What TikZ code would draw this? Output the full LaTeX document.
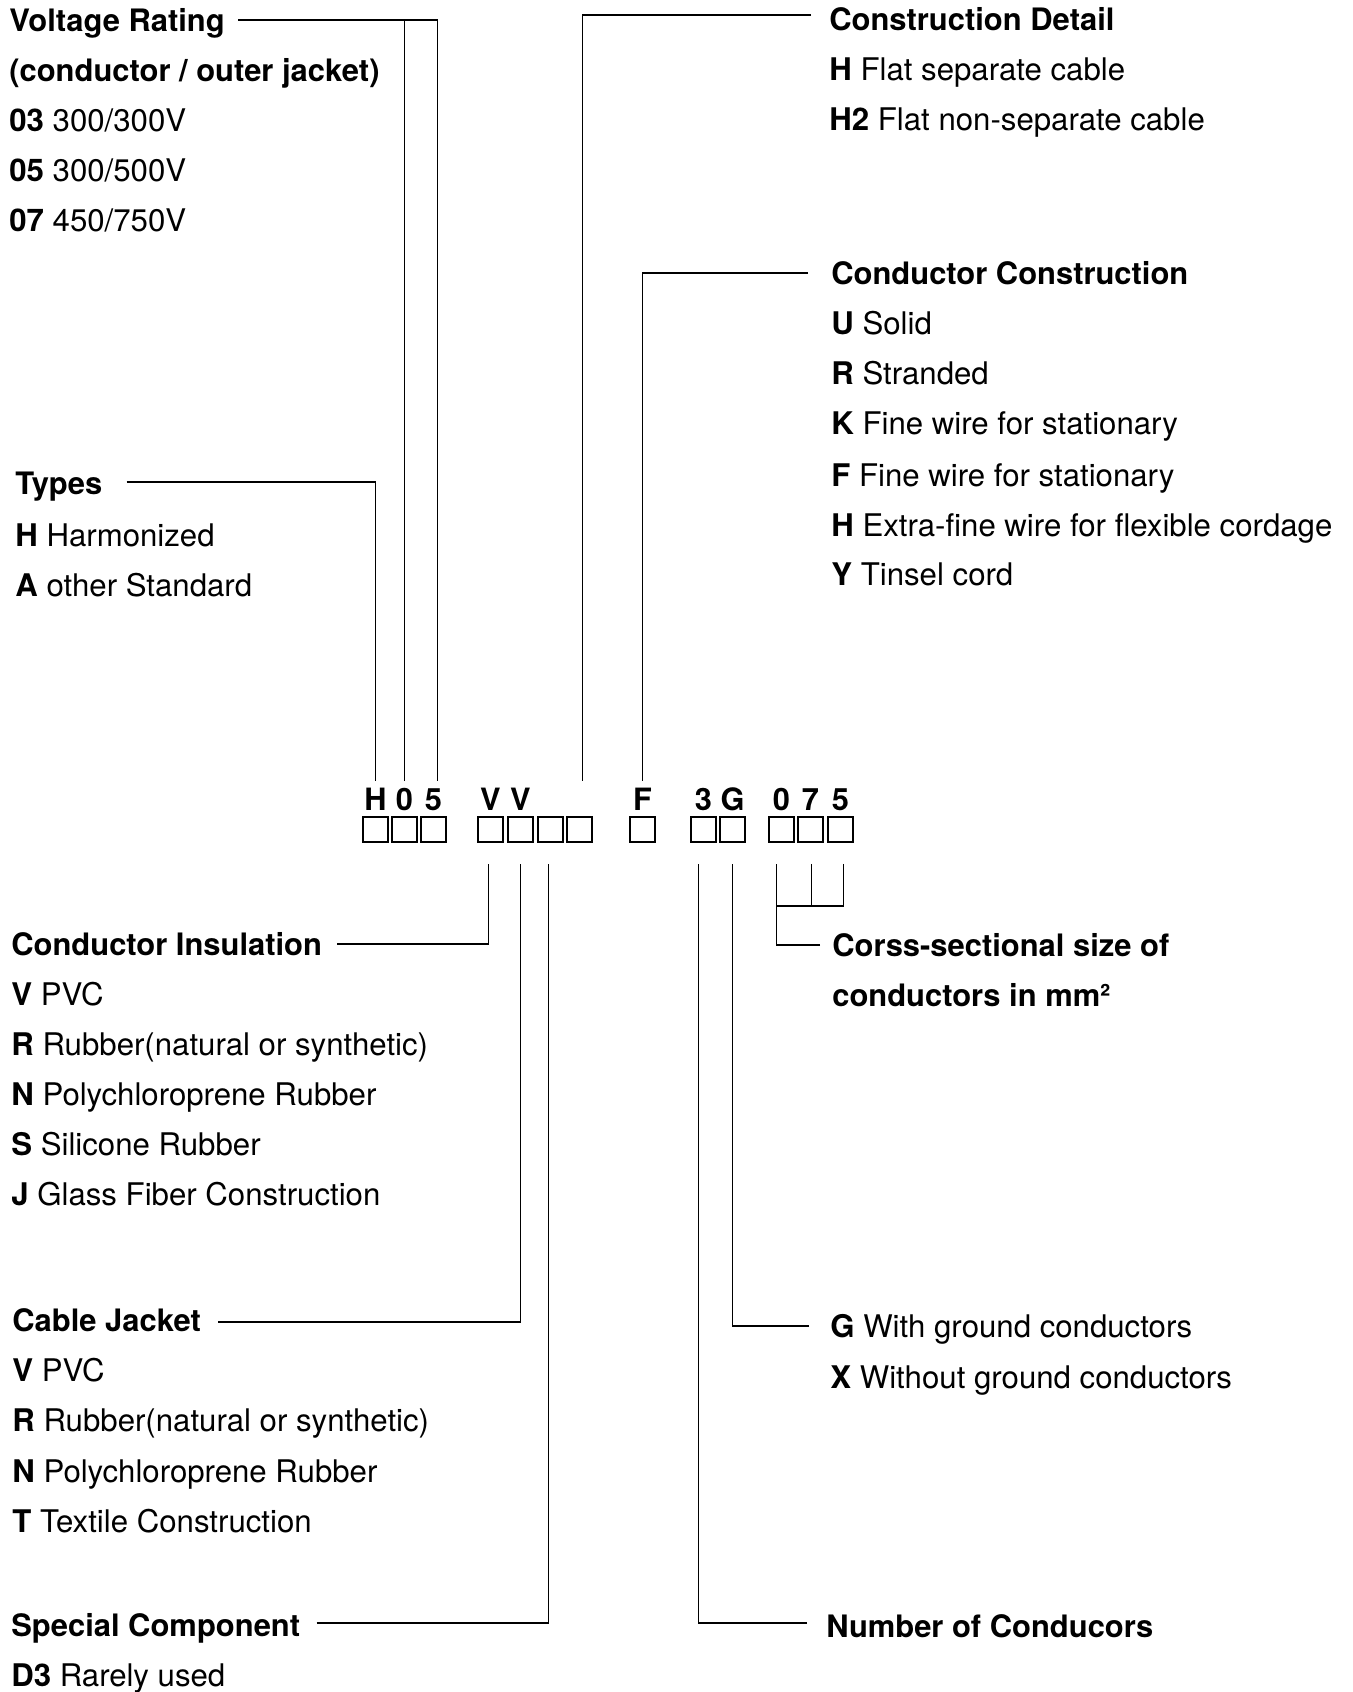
\documentclass[tikz,border=0pt]{standalone}
\usepackage{fontspec}
\setmainfont{TeX Gyre Heros}
\usepackage{tikz}
\usetikzlibrary{calc}

\tikzset{
  txt/.style={anchor=base west, inner sep=0pt, font=\fontsize{17.75}{21}\selectfont},
  head/.style={txt, font=\fontsize{17.6}{21}\selectfont\bfseries},
  codebox/.style={draw, line width=1.1pt, minimum size=0.5cm, inner sep=0pt, anchor=north west},
  codeletter/.style={anchor=base, inner sep=0pt, font=\fontsize{17.5}{21}\selectfont\bfseries},
  lead/.style={line width=0.95pt}
}
\newcommand{\key}[2]{\textbf{#1} #2}

\begin{document}
\begin{tikzpicture}[x=0.02cm, y=-0.02cm]

\useasboundingbox (0, 0) rectangle (1352, 1692);

% the code H05VV-F 3G0.75
\foreach \bx/\xl in {b1/362, b2/391, b3/420, b4/477, b5/507, b6/537, b7/566,
                     b8/629, b9/690, b10/719, b11/768, b12/797, b13/827} {
  \node[codebox] (\bx) at (\xl, 816) {};
}
\foreach \bx/\ch in {b1/H, b2/0, b3/5, b4/V, b5/V, b8/F, b9/3, b10/G, b11/0, b12/7, b13/5} {
  \node[codeletter] (l\bx) at ($(\bx.north)+(0,-6)$) {\ch};
}

% left column
\node[head] (volt) at (9, 32) {Voltage Rating};
\node[head] (voltsub) at (9, 82) {(conductor / outer jacket)};
\node[txt] (v03) at (9, 132) {\key{03}{300/300V}};
\node[txt] (v05) at (9, 182) {\key{05}{300/500V}};
\node[txt] (v07) at (9, 232) {\key{07}{450/750V}};

\node[head] (types) at (15, 495) {Types};
\node[txt] (tH) at (15, 546) {\key{H}{Harmonized}};
\node[txt] (tA) at (15, 596) {\key{A}{other Standard}};

\node[head] (cins) at (11, 955) {Conductor Insulation};
\node[txt] (iV) at (11, 1005) {\key{V}{PVC}};
\node[txt] (iR) at (11, 1055) {\key{R}{Rubber(natural or synthetic)}};
\node[txt] (iN) at (11, 1105) {\key{N}{Polychloroprene Rubber}};
\node[txt] (iS) at (11, 1155) {\key{S}{Silicone Rubber}};
\node[txt] (iJ) at (11, 1205) {\key{J}{Glass Fiber Construction}};

\node[head] (cjac) at (12, 1331) {Cable Jacket};
\node[txt] (jV) at (12, 1381) {\key{V}{PVC}};
\node[txt] (jR) at (12, 1431) {\key{R}{Rubber(natural or synthetic)}};
\node[txt] (jN) at (12, 1482) {\key{N}{Polychloroprene Rubber}};
\node[txt] (jT) at (12, 1532) {\key{T}{Textile Construction}};

\node[head] (spec) at (11, 1636) {Special Component};
\node[txt] (sD) at (11, 1686) {\key{D3}{Rarely used}};

% right column
\node[head] (cdet) at (829, 31) {Construction Detail};
\node[txt] (dH) at (829, 81) {\key{H}{Flat separate cable}};
\node[txt] (dH2) at (829, 131) {\key{H2}{Flat non-separate cable}};

\node[head] (ccon) at (831, 285) {Conductor Construction};
\node[txt] (cU) at (831, 335) {\key{U}{Solid}};
\node[txt] (cR) at (831, 385) {\key{R}{Stranded}};
\node[txt] (cK) at (831, 435) {\key{K}{Fine wire for stationary}};
\node[txt] (cF) at (831, 486) {\key{F}{Fine wire for stationary}};
\node[txt] (cH) at (831, 536) {\key{H}{Extra-fine wire for flexible cordage}};
\node[txt] (cY) at (831, 585) {\key{Y}{Tinsel cord}};

\node[head] (csec) at (832, 956) {Corss-sectional size of};
\node[head] (csec2) at (832, 1006) {conductors in mm²};

\node[txt] (gG) at (830, 1337) {\key{G}{With ground conductors}};
\node[txt] (gX) at (830, 1388) {\key{X}{Without ground conductors}};

\node[head] (ncon) at (826, 1637) {Number of Conducors};

% leaders above the code
\coordinate (vstart) at ([shift={(13,-12)}]volt.base east);
\draw[lead] (vstart) -| ([shift={(4,-35)}]b3.north);
\draw[lead] ([shift={(0,-35)}]b2.north) |- (vstart);
\draw[lead] ([shift={(24,-13)}]types.base east) -| ([shift={(0,-35)}]b1.north);
\draw[lead] ([shift={(-18,-16)}]cdet.base west) -| ([shift={(3,-35)}]b7.north);
\draw[lead] ([shift={(-23,-12)}]ccon.base west) -| ([shift={(0,-35)}]b8.north);

% leaders below the code
\draw[lead] ([shift={(15,-11)}]cins.base east) -| ([shift={(-2,21)}]b4.south);
\draw[lead] ([shift={(17,-9)}]cjac.base east) -| ([shift={(0,21)}]b5.south);
\draw[lead] ([shift={(16,-13)}]spec.base east) -| ([shift={(-2,21)}]b6.south);
\draw[lead] ([shift={(-19,-14)}]ncon.base west) -| ([shift={(-5,21)}]b9.south);
\draw[lead] ([shift={(-21,-11)}]gG.base west) -| ([shift={(0,21)}]b10.south);
\draw[lead] ([shift={(-12,-11)}]csec.base west) -| ([shift={(-5,21)}]b11.south);
\draw[lead] ([shift={(1,21)}]b12.south) |- ([shift={(-5,63)}]b11.south);
\draw[lead] ([shift={(3,21)}]b13.south) |- ([shift={(1,63)}]b12.south);

\end{tikzpicture}
\end{document}
